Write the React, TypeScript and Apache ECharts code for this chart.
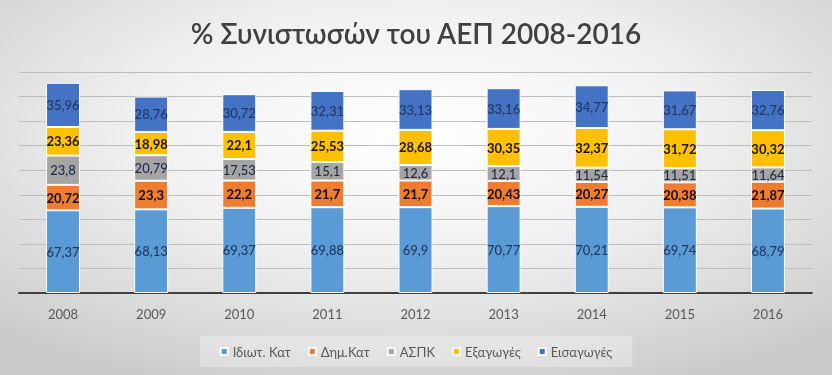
import React, { useEffect, useRef } from "react";
import * as echarts from "echarts";

const years = ["2008", "2009", "2010", "2011", "2012", "2013", "2014", "2015", "2016"];
const idiotKat = [67.37, 68.13, 69.37, 69.88, 69.9, 70.77, 70.21, 69.74, 68.79];
const dimKat = [20.72, 23.3, 22.2, 21.7, 21.7, 20.43, 20.27, 20.38, 21.87];
const aspk = [23.8, 20.79, 17.53, 15.1, 12.6, 12.1, 11.54, 11.51, 11.64];
const exagoges = [23.36, 18.98, 22.1, 25.53, 28.68, 30.35, 32.37, 31.72, 30.32];
const eisagoges = [35.96, 28.76, 30.72, 32.31, 33.13, 33.16, 34.77, 31.67, 32.76];

const FONT = "Lato, 'Open Sans', sans-serif";

export default function App() {
  const ref = useRef<HTMLDivElement>(null);
  useEffect(() => {
    if (!ref.current) return;
    document.body.style.margin = "0";
    const chart = echarts.init(ref.current, undefined, { renderer: "svg" });
    const fmt = (p: any) => String(p.value).replace(".", ",");
    const mk = (name: string, data: number[], color: string, labelColor: string, bold: boolean) => ({
      name,
      type: "bar",
      stack: "total",
      data,
      barWidth: 34,
      itemStyle: { color, borderColor: "#ffffff", borderWidth: 1 },
      label: {
        show: true,
        position: "inside",
        formatter: fmt,
        color: labelColor,
        fontFamily: FONT,
        fontSize: 13,
        fontWeight: bold ? "bold" : 500,
      },
    });
    chart.setOption({
      animation: false,
      backgroundColor: {
        type: "radial",
        x: 0.5,
        y: 0.35,
        r: 0.75,
        colorStops: [
          { offset: 0, color: "#ffffff" },
          { offset: 0.45, color: "#f0f0f0" },
          { offset: 1, color: "#c9c9c9" },
        ],
      },
      title: {
        text: "% Συνιστωσών του ΑΕΠ 2008-2016",
        left: "center",
        top: 14,
        textStyle: { fontFamily: FONT, fontSize: 28, fontWeight: 600, color: "#404040" },
      },
      legend: {
        bottom: 8,
        left: "center",
        itemWidth: 7,
        itemHeight: 7,
        itemGap: 17,
        icon: "rect",
        padding: [9, 20],
        backgroundColor: "rgba(255,255,255,0.3)",
        textStyle: { fontFamily: FONT, fontSize: 13, color: "#595959" },
      },
      grid: { left: 19, right: 20, top: 72, bottom: 82 },
      xAxis: {
        type: "category",
        data: years,
        axisLine: { lineStyle: { color: "#404040", width: 2 } },
        axisTick: { show: false },
        axisLabel: { fontFamily: FONT, fontSize: 13, color: "#595959", margin: 14 },
      },
      yAxis: {
        type: "value",
        min: 0,
        max: 180,
        interval: 20,
        axisLabel: { show: false },
        axisLine: { show: false },
        axisTick: { show: false },
        splitLine: { lineStyle: { color: "#bdbdbd", width: 1 } },
      },
      series: [
        mk("Ιδιωτ. Κατ", idiotKat, "#5B9BD5", "#1F3864", false),
        mk("Δημ.Κατ", dimKat, "#ED7D31", "#1a0d00", true),
        mk("ΑΣΠΚ", aspk, "#A5A5A5", "#1f2a44", false),
        mk("Εξαγωγές", exagoges, "#FFC000", "#1a1400", true),
        mk("Εισαγωγές", eisagoges, "#4472C4", "#1F3864", false),
      ],
    });
    return () => chart.dispose();
  }, []);
  return (
    <div style={{ position: "fixed", left: 0, top: 0 }}>
      <div ref={ref} style={{ width: 832, height: 375 }} />
    </div>
  );
}
